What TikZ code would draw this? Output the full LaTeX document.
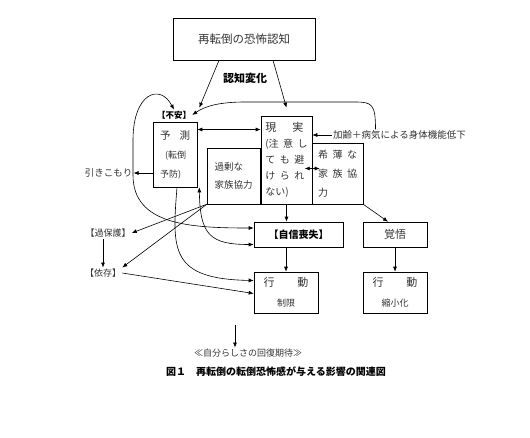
\documentclass[tikz,border=0pt]{standalone}
\usepackage{fontspec}
\setmainfont{Noto Sans CJK JP}
\usepackage{tikz}
\usetikzlibrary{arrows.meta,calc}

\newcommand{\jgap}{\hspace{4.5pt}}

\begin{document}
\begin{tikzpicture}[x=1pt, y=1pt, >={Latex[length=5pt,width=4pt]}, line width=0.6pt,
    box/.style={draw, inner sep=0pt, text=black!80},
    txt/.style={inner sep=1pt, text=black!80},
    arr/.style={->}, biarr/.style={<->}]
    \useasboundingbox (0,0) rectangle (530,-437);

    % 上部的框和标题
    \node[box, minimum width=142, minimum height=42, font=\fontsize{11.5}{14}\selectfont] (fear) at (244,-39) {再転倒の恐怖認知};
    \node[txt, text=black, font=\fontsize{11}{13}\selectfont\bfseries] (ninchi) at (245,-78) {認知変化};
    \node[txt, text=black, font=\fontsize{8.5}{10}\selectfont\bfseries] (fuan) at (174,-115) {【不安】};

    % 中间一排框
    \node[box, minimum width=44, minimum height=65, align=left, font=\fontsize{9}{19}\selectfont] (yosoku) at (175,-154.5)
        {{\fontsize{10.5}{19}\selectfont 予\hspace{9pt}測}\\ \hspace{5pt}(転倒\\ 予防)};
    \node[box, minimum width=53, minimum height=56, align=left, font=\fontsize{9.5}{18}\selectfont] (kajou) at (233.5,-176) {過剰な\\家族協力};
    \node[box, minimum width=51, minimum height=88, align=left, font=\fontsize{10}{16}\selectfont] (genjitsu) at (286.5,-160)
        {{\fontsize{11}{16}\selectfont 現\hspace{16pt}実}\\(注\jgap 意\jgap し\\て\jgap も\jgap 避\\け\jgap ら\jgap れ\\ない)};
    \node[box, minimum width=51, minimum height=61, align=left, font=\fontsize{10}{19}\selectfont] (kihaku) at (337.5,-173.5)
        {希\jgap 薄\jgap な\\家\jgap 族\jgap 協\\力};
    \node[txt, font=\fontsize{9.5}{11}\selectfont] (karei) at (399.5,-135) {加齢＋病気による身体機能低下};
    \node[txt, font=\fontsize{9.5}{11}\selectfont] (hiki) at (108.5,-173) {引きこもり};

    % 左侧标签
    \node[txt, font=\fontsize{9}{11}\selectfont] (kahogo) at (108,-233) {【過保護】};
    \node[txt, font=\fontsize{9}{11}\selectfont] (izon) at (103,-273) {【依存】};

    % 下部的框
    \node[box, text=black, minimum width=89, minimum height=25, font=\fontsize{10}{12}\selectfont\bfseries] (jishin) at (298.5,-234.5) {【自信喪失】};
    \node[box, minimum width=64, minimum height=25, font=\fontsize{11}{13}\selectfont] (kakugo) at (395,-234.5) {覚悟};
    \node[box, minimum width=64, minimum height=41, align=center, font=\fontsize{9}{20}\selectfont] (koudou) at (286,-292.5)
        {{\fontsize{11}{20}\selectfont 行\hspace{23pt}動}\\制限};
    \node[box, minimum width=64, minimum height=41, align=center, font=\fontsize{9}{20}\selectfont] (shukushou) at (395,-292.5)
        {{\fontsize{11}{20}\selectfont 行\hspace{23pt}動}\\縮小化};

    \coordinate (kitaiTop) at (235,-325);
    \node[txt, font=\fontsize{9}{11}\selectfont] (kitai) at (248,-353) {≪自分らしさの回復期待≫};
    \node[inner sep=1pt, font=\fontsize{10}{12}\selectfont\bfseries] (caption) at (276,-372) {図１　再転倒の転倒恐怖感が与える影響の関連図};

    % 上部箭头
    \draw[arr] ([xshift=-25]fear.south) -- ([xshift=2,yshift=14]yosoku.north east);
    \draw[arr] ([xshift=29]fear.south) -- ([yshift=8]genjitsu.north);
    \draw[arr] ([xshift=-24]karei.north) .. controls (375.5,-104) and (372,-102) .. (355,-102)
        -- (245,-102) .. controls (220,-102) and (205,-106) .. (fuan.east);
    \draw[arr] (karei.west) -- (karei.west -| genjitsu.east);

    % 中间的双向箭头
    \draw[biarr] ([yshift=25]yosoku.east) -- ([yshift=25]yosoku.east -| genjitsu.west);
    \draw[biarr] ([shift={(-7,5)}]kihaku.west) -- ([shift={(8,5)}]kihaku.west);
    \draw[arr] ([yshift=-18.5]yosoku.west) -- (hiki.east);

    % 左侧大环线
    \draw[biarr] ([yshift=6.5]jishin.west) .. controls (190,-228) and (133,-225) .. (133,-175)
        -- (133,-140) .. controls (133,-93) and (160,-83) .. (fuan.north);
    \draw[biarr] ([xshift=2]yosoku.south east) .. controls (200,-235) and (210,-244.5) .. ([yshift=-10]jishin.west);
    \draw[arr] ([xshift=2]yosoku.south) .. controls (172,-250) and (170,-279) .. ([yshift=12]koudou.west);

    % 过剰な家族協力 -> 左侧
    \draw[arr] (kajou.south west) -- (kahogo.east);
    \draw[arr] (kajou.south west) -- (izon.north east);
    \draw[arr] (kahogo.south -| izon.north) -- (izon.north);
    \draw[arr] (izon.east) -- ([yshift=-1]koudou.west);

    % 向下的箭头
    \draw[arr] (genjitsu.south) -- (genjitsu.south |- jishin.north);
    \draw[arr] (kihaku.south east) -- ([xshift=-7]kakugo.north);
    \draw[arr] (jishin.south -| koudou.north) -- (koudou.north);
    \draw[arr] (kakugo.south) -- (shukushou.north);
    \draw[arr] (kitaiTop) -- (kitaiTop |- kitai.north);
\end{tikzpicture}
\end{document}
